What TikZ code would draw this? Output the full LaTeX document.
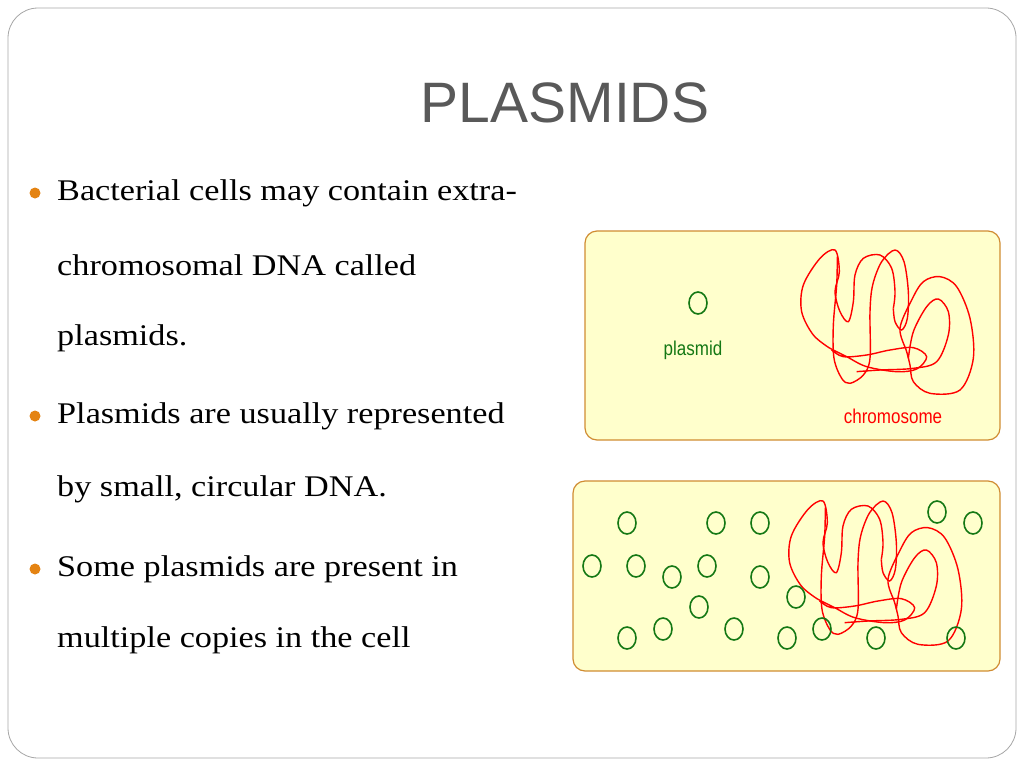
\documentclass[tikz,border=0pt]{standalone}
\usepackage{fontspec}
\usetikzlibrary{shapes.geometric}
\setmainfont{Liberation Serif}
\newfontfamily\arialf{Liberation Sans}
\begin{document}
\begin{tikzpicture}[x=1pt,y=-1pt,
  bul/.style={circle,fill=bulc,inner sep=0pt,minimum size=11pt},
  body/.style={anchor=west,font=\fontsize{30}{30}\selectfont,inner sep=0pt,xscale=1.14},
  cellbox/.style={draw=boxc,fill=cellc,line width=1.2pt,rounded corners=12pt},
  pl/.style={draw=plc,line width=1.6pt,ellipse,inner sep=0pt},
  chr/.style={draw=red,line width=1.4pt}]
\definecolor{bulc}{RGB}{228,131,18}
\definecolor{boxc}{RGB}{208,140,50}
\definecolor{cellc}{RGB}{255,255,204}
\definecolor{plc}{RGB}{20,120,20}
\definecolor{titc}{RGB}{89,89,89}
\useasboundingbox (0,0) rectangle (1024,768);
\draw[draw=gray!70,line width=0.8pt,rounded corners=30pt] (8,8) rectangle (1016,758);
\node[font=\arialf\fontsize{57}{57}\selectfont,text=titc] (title) at (565,103) {PLASMIDS};
\foreach \n/\y/\t/\b in {a/193/{Bacterial cells may contain extra-}/1,
  b/265/{chromosomal DNA called}/0, c/338/{plasmids.}/0,
  d/416/{Plasmids are usually represented}/1, e/489/{by small, circular DNA.}/0,
  f/569/{Some plasmids are present in}/1, g/640/{multiple copies in the cell}/0}{
  \node[body] (t\n) at (57,\y) {\t};
  \ifnum\b=1 \node[bul] (b\n) at (35,\y) {};\fi
}
\draw[cellbox] (585,231) rectangle (1000,440);
\draw[cellbox] (573,481) rectangle (1000,671);
\newcommand\chromo{%
 \draw[chr,smooth,tension=0.55] plot coordinates {(750,370) (700,330) (665,260) (670,180) (720,100) (765,75) (778,140) (765,200) (780,260) (805,290) (820,230) (825,150) (850,100) (900,90) (935,130) (945,200) (940,250)};
 \draw[chr,smooth,tension=0.55] plot coordinates {(940,250) (945,290) (965,315) (982,280) (985,200) (972,110) (945,75) (905,110) (878,180) (870,260) (870,400) (850,450) (810,475) (785,460) (762,400) (760,300) (770,180) (772,95)};
 \draw[chr,smooth,tension=0.55] plot coordinates {(750,370) (800,395) (860,425) (950,440) (1010,432) (1040,395) (1000,368) (930,375) (860,390) (790,395) (755,375)};
 \draw[chr,smooth cycle,tension=0.55] plot coordinates {(990,420) (1000,470) (1050,505) (1140,495) (1180,400) (1170,280) (1130,185) (1080,155) (1030,170) (995,225) (960,310) (980,380)};
 \draw[chr,smooth,tension=0.55] plot coordinates {(830,440) (900,435) (1000,430) (1070,410) (1105,330) (1105,260) (1075,222) (1040,245) (1000,320) (985,400)};
}
\begin{scope}[shift={(580,225)},scale=1/3]\chromo\end{scope}
\begin{scope}[shift={(568,476)},scale=1/3]\chromo\end{scope}
\node[pl,minimum width=18pt,minimum height=22pt] (p0) at (698,303) {};
\node[font=\arialf\fontsize{20}{20}\selectfont,text=plc,xscale=0.85] (lp) at (693,350) {plasmid};
\node[font=\arialf\fontsize{20}{20}\selectfont,text=red,xscale=0.85] (lc) at (893,416) {chromosome};
\foreach \x/\y [count=\i] in {627/523,716/523,760/523,937/512,973/523,592/566,636/566,672/577,707/566,760/577,699/607,796/597,627/638,663/629,734/629,787/638,822/629,876/638,956/638}
  \node[pl,minimum width=18pt,minimum height=22pt] (q\i) at (\x,\y) {};
\end{tikzpicture}
\end{document}
